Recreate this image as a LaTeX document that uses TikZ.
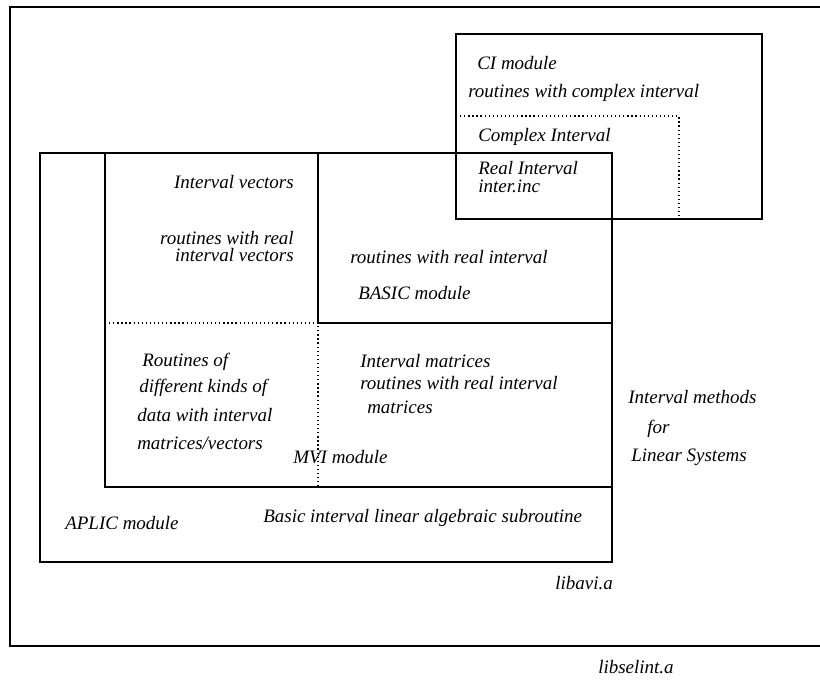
\documentclass[tikz,border=0pt]{standalone}
\usepackage{fontspec}
\setmainfont{Liberation Serif}
\tikzstyle{caja} = [draw=black, line width=2pt]
\tikzstyle{marco} = [draw=black, line width=1.2pt]
\tikzstyle{punteada} = [draw=black, dotted, line width=0.9pt]
\tikzstyle{texto} = [anchor=west, inner sep=0pt, font=\itshape\fontsize{13.5}{16}\selectfont]
\tikzstyle{textoder} = [texto, anchor=east]

\begin{document}
\begin{tikzpicture}[x=0.025cm, y=-0.025cm]
    \useasboundingbox (0,0) rectangle (820,679);
    % Cajas
    \draw[marco] (820,7) -- (10,7) -- (10,646) -- (820,646);
    \draw[caja] (456,34) rectangle (762,219);
    \draw[punteada] (456,116) -- (679,116) -- (679,219);
    \draw[caja] (40,153) rectangle (612,562);
    \draw[caja] (105,153) -- (105,487) -- (612,487);
    \draw[caja] (318,153) -- (318,323) -- (612,323);
    \draw[punteada] (105,323) -- (318,323) -- (318,487);
    % Textos
    \node (cimod) [texto] at (477,63) {CI module};
    \node (cirut) [texto] at (468,93) {routines with complex interval};
    \node (cint) [texto] at (478,137) {Complex Interval};
    \node (rint) [texto] at (478,168) {Real Interval};
    \node (inc) [texto] at (478,186) {inter.inc};
    \node (ivec) [textoder] at (294,182) {Interval vectors};
    \node (rvec1) [textoder] at (294,238) {routines with real};
    \node (rvec2) [textoder] at (294,255) {interval vectors};
    \node (rreal) [texto] at (350,257) {routines with real interval};
    \node (basic) [texto] at (358,293) {BASIC module};
    \node (rdif1) [texto] at (142,362) {Routines of};
    \node (rdif2) [texto] at (139,388) {different kinds of};
    \node (rdif3) [texto] at (137,415) {data with interval};
    \node (rdif4) [texto] at (137,443) {matrices/vectors};
    \node (mvi) [texto] at (293,457) {MVI module};
    \node (imat1) [texto] at (360,361) {Interval matrices};
    \node (imat2) [texto] at (360,383) {routines with real interval};
    \node (imat3) [texto] at (367,407) {matrices};
    \node (met1) [texto] at (628,397) {Interval methods};
    \node (met2) [texto] at (647,429) {for};
    \node (met3) [texto] at (631,457) {Linear Systems};
    \node (aplic) [texto] at (65,523) {APLIC module};
    \node (bas) [texto] at (263,518) {Basic interval linear algebraic subroutine};
    \node (avi) [texto] at (555,583) {libavi.a};
    \node (selint) [texto] at (598,667) {libselint.a};
\end{tikzpicture}
\end{document}
